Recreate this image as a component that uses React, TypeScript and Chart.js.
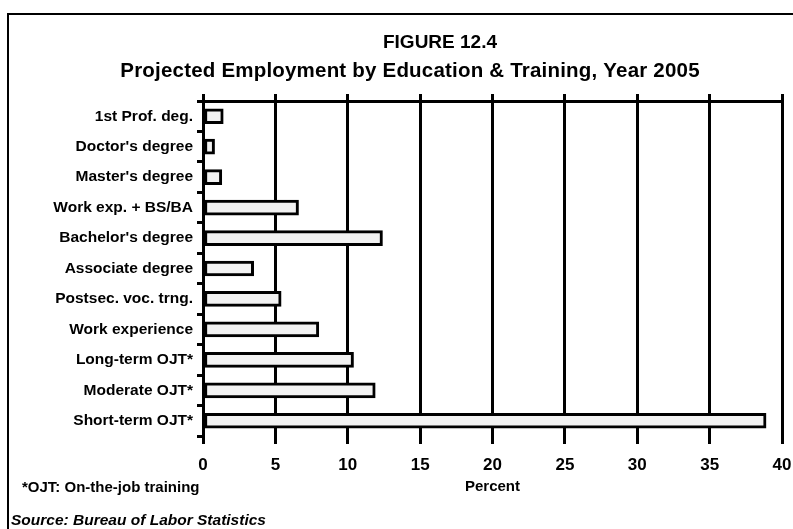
import React, { useEffect, useRef } from "react";
import { Chart, registerables } from "chart.js";

Chart.register(...registerables);

const categories = [
  "1st Prof. deg.",
  "Doctor's degree",
  "Master's degree",
  "Work exp. + BS/BA",
  "Bachelor's degree",
  "Associate degree",
  "Postsec. voc. trng.",
  "Work experience",
  "Long-term OJT*",
  "Moderate OJT*",
  "Short-term OJT*",
];
const percents = [1.4, 0.8, 1.3, 6.6, 12.4, 3.5, 5.4, 8.0, 10.4, 11.9, 38.9];
const xMin = 0;
const xMax = 40;
const xStep = 5;
const titleText = "FIGURE 12.4";
const subtitleText = "Projected Employment by Education & Training, Year 2005";
const xTitleText = "Percent";
const footnoteText = "*OJT: On-the-job training";
const sourceText = "Source: Bureau of Labor Statistics";

const FONT = "'Liberation Sans', Arial, Helvetica, sans-serif";

const textPlugin = {
  id: "texts",
  afterDraw(chart: any) {
    const ctx = chart.ctx;
    const area = chart.chartArea;
    ctx.save();
    // outer frame
    ctx.strokeStyle = "#000";
    ctx.lineWidth = 2;
    ctx.beginPath();
    ctx.moveTo(8, 529);
    ctx.lineTo(8, 14);
    ctx.lineTo(793, 14);
    ctx.stroke();

    ctx.fillStyle = "#000";
    ctx.textBaseline = "middle";
    ctx.textAlign = "center";
    ctx.font = `bold 19px ${FONT}`;
    ctx.fillText(titleText, 440, 43);
    ctx.font = `bold 20.5px ${FONT}`;
    ctx.letterSpacing = "0.2px";
    ctx.fillText(subtitleText, 410, 71);
    ctx.letterSpacing = "0px";

    ctx.font = `bold 15px ${FONT}`;
    ctx.fillText(xTitleText, (area.left + area.right) / 2, 487);

    ctx.textAlign = "left";
    ctx.fillText(footnoteText, 22, 488);
    ctx.font = `italic bold 15.5px ${FONT}`;
    ctx.fillText(sourceText, 11, 521);
    ctx.restore();
  },
};

export default function App() {
  const canvasRef = useRef<HTMLCanvasElement | null>(null);

  useEffect(() => {
    const canvas = canvasRef.current;
    if (!canvas) return;
    Chart.defaults.font.family = FONT;
    Chart.defaults.color = "#000";
    const chart = new Chart(canvas, {
      type: "bar",
      data: {
        labels: categories,
        datasets: [
          {
            data: percents,
            backgroundColor: "#f2f2f2",
            borderColor: "#000",
            borderWidth: 3,
            borderSkipped: false,
            barThickness: 15,
          },
        ],
      },
      options: {
        indexAxis: "y",
        animation: false,
        responsive: false,
        devicePixelRatio: 1,
        layout: { padding: { left: 0, right: 11, top: 91, bottom: 0 } },
        plugins: {
          legend: { display: false },
          tooltip: { enabled: false },
          title: { display: false },
        },
        scales: {
          x: {
            type: "linear",
            position: "bottom",
            min: xMin,
            max: xMax,
            ticks: {
              stepSize: xStep,
              padding: 11,
              font: { size: 17, weight: "bold" },
              color: "#000",
            },
            grid: {
              color: "#000",
              lineWidth: 3,
              drawTicks: true,
              tickLength: 8,
            },
            border: { display: false },
            afterFit: (s: any) => {
              s.height = 93;
              s.paddingRight = 0;
              s.paddingLeft = 0;
            },
          },
          x2: {
            type: "linear",
            position: "top",
            min: xMin,
            max: xMax,
            ticks: { stepSize: xStep, display: false },
            grid: {
              drawOnChartArea: false,
              drawTicks: true,
              tickLength: 7,
              color: "#000",
              lineWidth: 3,
            },
            border: { display: true, color: "#000", width: 3 },
            afterFit: (s: any) => {
              s.height = 10;
              s.paddingRight = 0;
              s.paddingLeft = 0;
            },
          },
          y: {
            type: "category",
            offset: true,
            ticks: {
              font: { size: 15.5, weight: "bold" },
              color: "#000",
              padding: 4,
            },
            grid: {
              offset: true,
              drawOnChartArea: false,
              drawTicks: true,
              tickLength: 6,
              color: "#000",
              lineWidth: 3,
            },
            border: { display: true, color: "#000", width: 3 },
            afterFit: (s: any) => {
              s.width = 203;
            },
          },
        },
      },
      plugins: [textPlugin],
    });
    return () => chart.destroy();
  }, []);

  return (
    <div style={{ position: "absolute", left: 0, top: 0, width: 793, height: 529, background: "#fff" }}>
      <canvas ref={canvasRef} width={793} height={529} style={{ display: "block", width: 793, height: 529 }} />
    </div>
  );
}
